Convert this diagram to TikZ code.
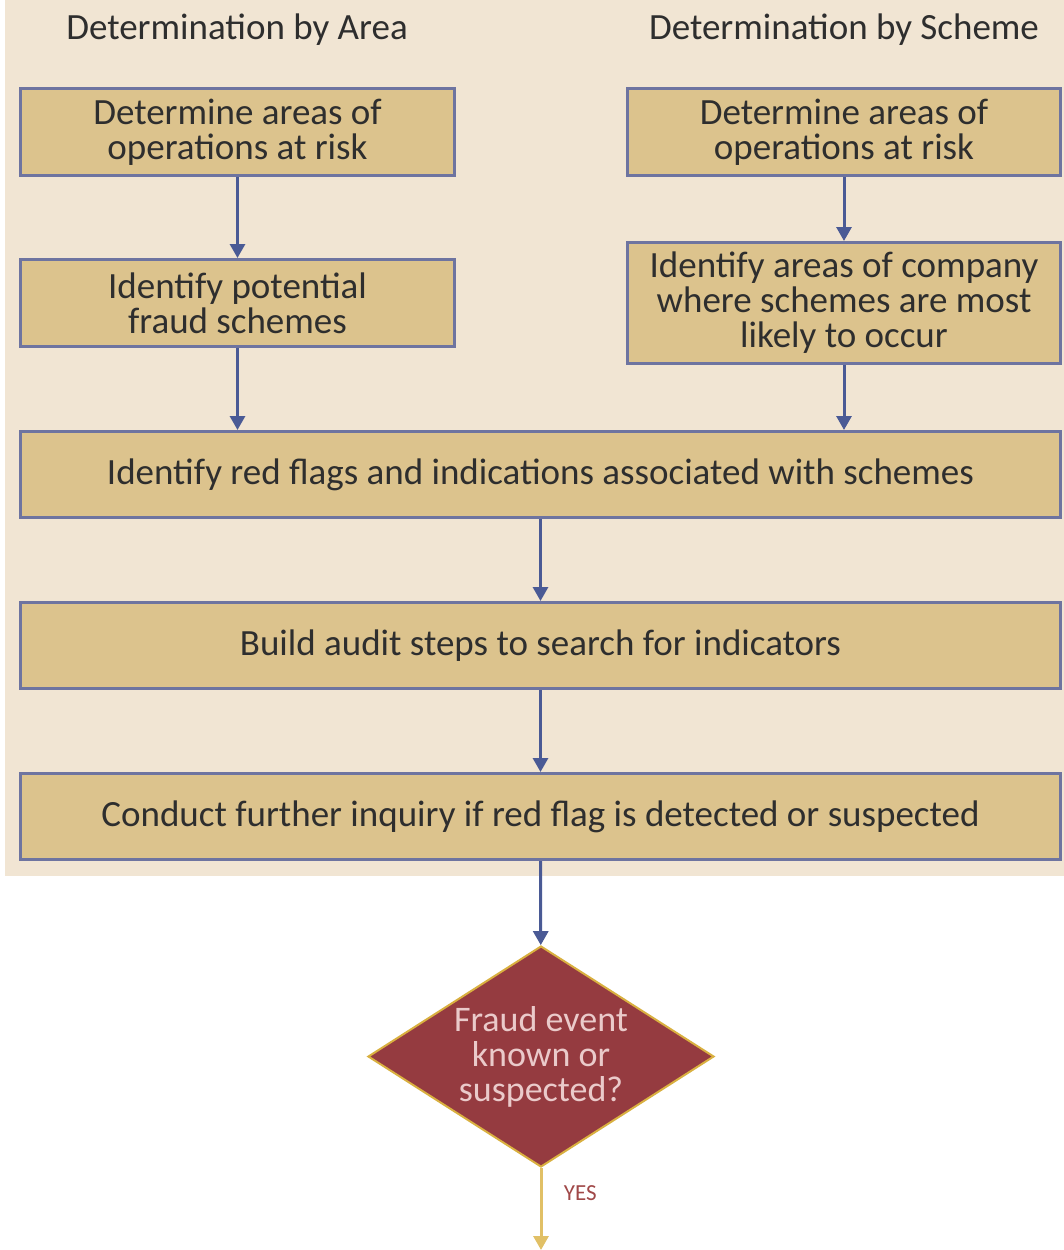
\documentclass[tikz,border=0pt]{standalone}
\usepackage{fontspec}
\setmainfont{Carlito}
\usetikzlibrary{shapes.geometric,arrows.meta}

\definecolor{bgtan}{HTML}{F1E5D3}
\definecolor{boxtan}{HTML}{DCC38D}
\definecolor{boxedge}{HTML}{6E74A0}
\definecolor{flowblue}{HTML}{4A5A95}
\definecolor{fraudred}{HTML}{953B40}
\definecolor{fraudgold}{HTML}{D9B040}
\definecolor{yesred}{HTML}{A04848}
\definecolor{textgray}{HTML}{2E2E2E}
\definecolor{fraudtext}{HTML}{EACACA}

\tikzset{
	stepbox/.style={rectangle, draw=boxedge, fill=boxtan, line width=3pt, text=textgray,
		align=center, inner sep=0pt, font=\fontsize{37}{35}\selectfont},
	heading/.style={text=textgray, font=\fontsize{37}{35}\selectfont},
	flow/.style={draw=flowblue, line width=3pt, -{Triangle[width=15pt,length=14pt]}},
}

\begin{document}
\begin{tikzpicture}[x=1pt, y=-1pt, every node/.style={text centered}]
	\useasboundingbox (0,0) rectangle (1064,1250);
	\fill[bgtan] (5,0) rectangle (1064,876);

	\draw 	(237,30)	node[heading] (areahead) {Determination by Area}
			(844,30)	node[heading] (schemehead) {Determination by Scheme}

			(237.5,132)	node[stepbox, minimum width=434, minimum height=87] (area1)
				{Determine areas of\\operations at risk}
			(237.5,303)	node[stepbox, minimum width=434, minimum height=87] (area2)
				{Identify potential\\fraud schemes}

			(844,132)	node[stepbox, minimum width=433, minimum height=87] (scheme1)
				{Determine areas of\\operations at risk}
			(844,303)	node[stepbox, minimum width=433, minimum height=121] (scheme2)
				{Identify areas of company\\where schemes are most\\likely to occur}

			(540.5,474.5)	node[stepbox, minimum width=1040, minimum height=86] (flags)
				{Identify red flags and indications associated with schemes}
			(540.5,645.5)	node[stepbox, minimum width=1040, minimum height=86] (audit)
				{Build audit steps to search for indicators}
			(540.5,816.5)	node[stepbox, minimum width=1040, minimum height=86] (inquiry)
				{Conduct further inquiry if red flag is detected or suspected}

			(541,1056.5)	node[diamond, shape aspect=1.56, draw=fraudgold, fill=fraudred, line width=2pt,
					minimum width=346, minimum height=221, inner sep=0pt, text=fraudtext,
					align=center, font=\fontsize{36}{35}\selectfont] (fraud)
				{Fraud event\\known or\\suspected?}
	;

	\draw[flow] (area1) -- (area2);
	\draw[flow] (area2.south) -- (area2.south |- flags.north);
	\draw[flow] (scheme1) -- (scheme2);
	\draw[flow] (scheme2.south) -- (scheme2.south |- flags.north);
	\draw[flow] (flags) -- (audit);
	\draw[flow] (audit) -- (inquiry);
	\draw[flow] (inquiry) -- (fraud);

	\coordinate (yesend) at (541,1250);
	\draw[fraudgold!80!white, line width=3pt, -{Triangle[width=15pt,length=14pt]}] (fraud.south) -- (yesend)
		node[pos=0.3, right, xshift=18pt, text=yesred, font=\fontsize{23}{23}\selectfont] (yes) {YES};
\end{tikzpicture}
\end{document}
